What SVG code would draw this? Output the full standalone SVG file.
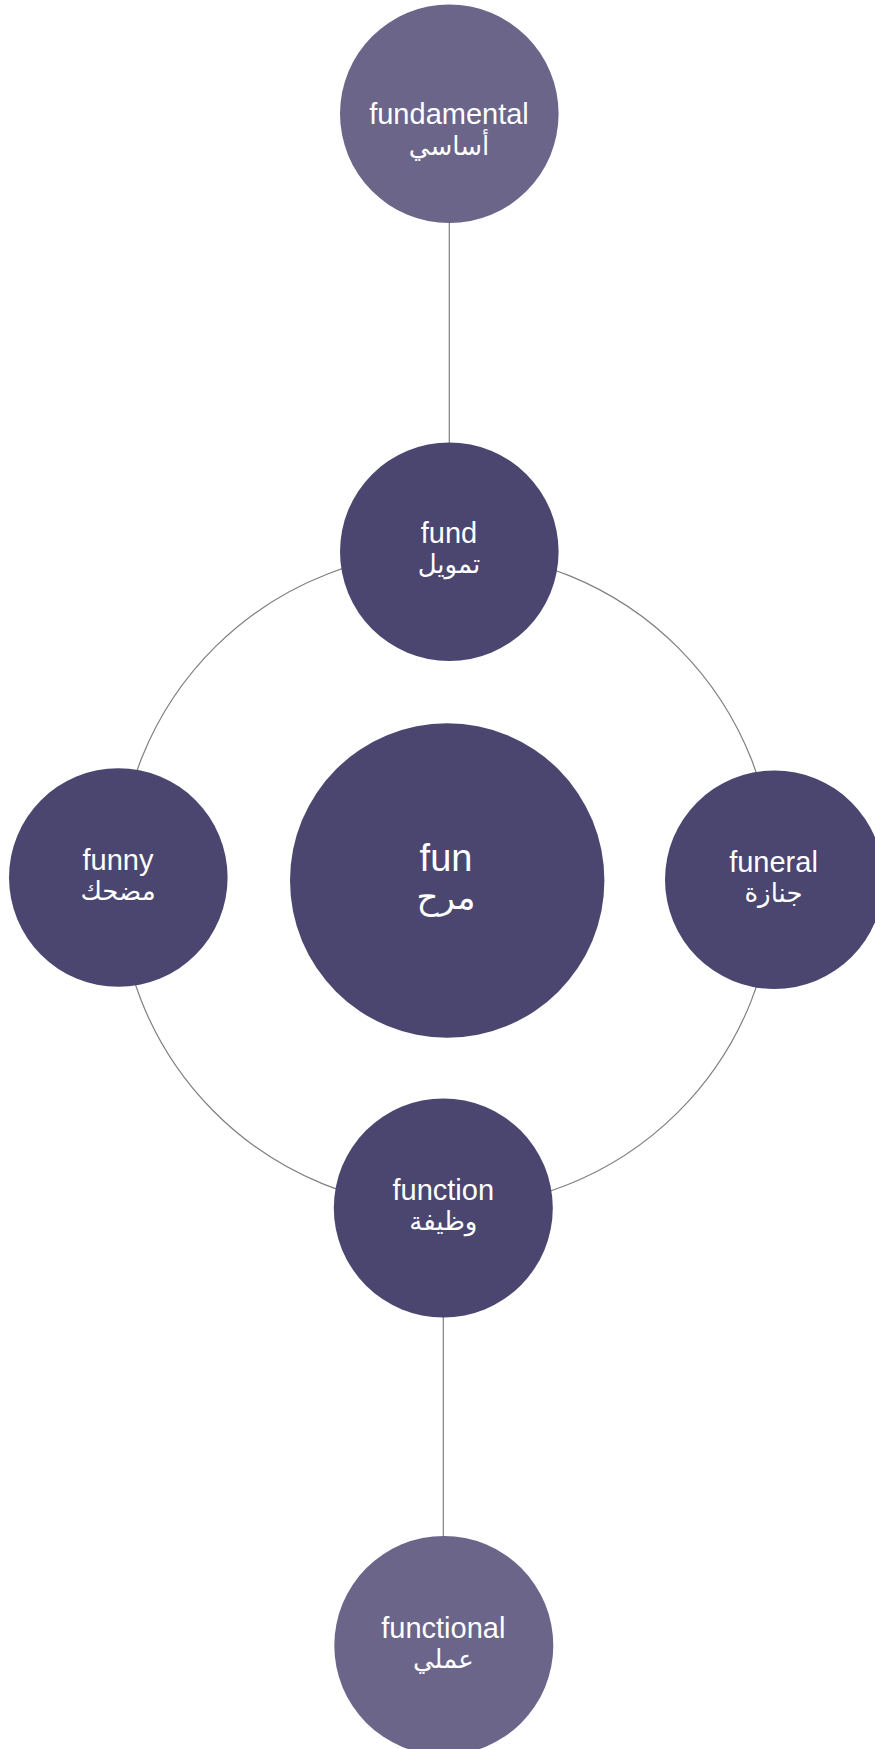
<svg xmlns="http://www.w3.org/2000/svg" width="875" height="1749" viewBox="0 0 875 1749">
<style>
.conn{fill:none;stroke:#7f7f7f;stroke-width:1.2}
.dark{fill:#4a466f}
.light{fill:#6a6589}
.t{fill:#ffffff;font-family:"Liberation Sans","DejaVu Sans",sans-serif;text-anchor:middle;font-size:29px}
.ar{fill:#ffffff;font-family:"DejaVu Sans","Noto Sans",sans-serif;text-anchor:middle;font-size:26px}
.big{font-size:38px}
.arbig{font-size:34px}
</style>
<rect width="875" height="1749" fill="#ffffff"/>
<g id="connectors">
<line class="conn" x1="449.3" y1="113.8" x2="449.3" y2="551.7"/>
<line class="conn" x1="443.3" y1="1208" x2="443.3" y2="1645.5"/>
<path class="conn" d="M449.3,551.7 A328,328 0 0 1 774.3,879.7"/>
<path class="conn" d="M774.3,879.7 A328,328 0 0 1 443.3,1208"/>
<path class="conn" d="M443.3,1208 A328,328 0 0 1 118.3,877.5"/>
<path class="conn" d="M118.3,877.5 A328,328 0 0 1 449.3,551.7"/>
</g>
<g id="node-fundamental">
<circle class="light" cx="449.3" cy="113.8" r="109.3"/>
<text class="t" x="449" y="124">fundamental</text>
<text class="ar" x="449" y="155">أساسي</text>
</g>
<g id="node-fund">
<circle class="dark" cx="449.3" cy="551.7" r="109.3"/>
<text class="t" x="449" y="543">fund</text>
<text class="ar" x="449" y="573">تمويل</text>
</g>
<g id="node-fun">
<circle class="dark" cx="447.2" cy="880.5" r="157.2"/>
<text class="t big" x="446" y="871">fun</text>
<text class="ar arbig" x="446" y="909">مرح</text>
</g>
<g id="node-funny">
<circle class="dark" cx="118.3" cy="877.5" r="109.3"/>
<text class="t" x="118" y="870">funny</text>
<text class="ar" x="118" y="900">مضحك</text>
</g>
<g id="node-funeral">
<circle class="dark" cx="774.3" cy="879.7" r="109.3"/>
<text class="t" x="773.5" y="871.5">funeral</text>
<text class="ar" x="773.5" y="901.5">جنازة</text>
</g>
<g id="node-function">
<circle class="dark" cx="443.3" cy="1208" r="109.5"/>
<text class="t" x="443.3" y="1200">function</text>
<text class="ar" x="443.3" y="1230">وظيفة</text>
</g>
<g id="node-functional">
<circle class="light" cx="443.8" cy="1645.5" r="109.5"/>
<text class="t" x="443.3" y="1638">functional</text>
<text class="ar" x="443.3" y="1668">عملي</text>
</g>
</svg>
